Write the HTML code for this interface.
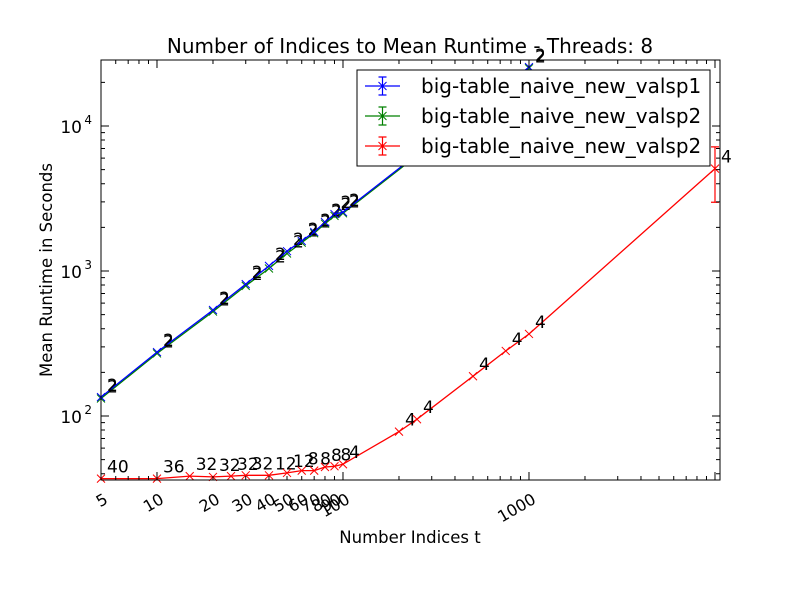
<!DOCTYPE html>
<html><head><meta charset="utf-8"><style>
body{margin:0;background:#fff;}
svg{font-family:"DejaVu Sans","Liberation Sans",sans-serif;}
</style></head><body>
<svg id="chart" width="800" height="600" viewBox="0 0 800 600" xmlns="http://www.w3.org/2000/svg">
<rect width="800" height="600" fill="#fff"/>
<text x="410" y="53" font-size="20" text-anchor="middle">Number of Indices to Mean Runtime - Threads: 8</text>
<text x="410" y="543" font-size="16.5" text-anchor="middle">Number Indices t</text>
<text transform="translate(52,270) rotate(-90)" font-size="16.5" text-anchor="middle">Mean Runtime in Seconds</text>
<g id="plot"></g>
<g id="axes"></g>
<g id="legend"></g>
</svg>
<script>
const blueX=[5,10,20,30,40,50,60,70,80,90,100,1000];
const blueY=[135,276,538,812,1085,1370,1612,1860,2175,2470,2550,25500];
const greenX=[5,10,20,30,40,50,60,70,80,90,100,1000];
const greenY=[132,270,525,790,1040,1320,1570,1820,2120,2400,2500,25000];
const blueLabels=["2","2","2","2","2","2","2","2","2","2","2","2"];
const redX=[5,10,15,20,25,30,40,50,60,70,80,90,100,200,250,500,750,1000,10000];
const redY=[37,37,38.5,38,38.5,39,39,40.5,42,42,44.5,45,46.5,78,95,188,281,368,5080];
const redErr=[0,0,0,0,0,0,0,0,0,0,0,0,0,0,0,0,0,0,2100];
const redLabels=["40","36","32","32","32","32","12","12","8","8","8","8","4","4","4","4","4","4","4"];
const xTickLabels=[5,10,20,30,40,50,60,70,80,90,100,1000];
const yTickExps=[2,3,4];

const L=101,R=720,T=60,B=480;
const X=v=>101+186*Math.log10(v/5);
const Y=v=>416-145*Math.log10(v/100);
const NS="http://www.w3.org/2000/svg";
const plot=document.getElementById('plot'),axes=document.getElementById('axes'),leg=document.getElementById('legend');
function mk(tag,attrs,parent){const e=document.createElementNS(NS,tag);for(const k in attrs)e.setAttribute(k,attrs[k]);parent.appendChild(e);return e;}
function xmark(x,y,c,p){mk('path',{d:`M${x-4},${y-4}L${x+4},${y+4}M${x-4},${y+4}L${x+4},${y-4}`,stroke:c,'stroke-width':1,fill:'none'},p);}
function series(xs,ys,c,labels,name,err){
  const g=mk('g',{},plot);
  
  
  const pts=xs.map((v,i)=>X(v).toFixed(1)+','+Y(ys[i]).toFixed(1)).join(' ');
  const pl=mk('polyline',{points:pts,fill:'none',stroke:c,'stroke-width':1.3},g);
  
  
  xs.forEach((v,i)=>{
    const x=X(v),y=Y(ys[i]);
    if(err&&err[i]>0){
      const y1=Y(ys[i]+err[i]),y2=Y(ys[i]-err[i]);
      const eb=mk('path',{d:`M${x},${y1}L${x},${y2}M${x-4},${y1}L${x+4},${y1}M${x-4},${y2}L${x+4},${y2}`,stroke:c,'stroke-width':1.2,fill:'none'},g);
      
      
    }
    xmark(x,y,c,g);
    if(labels){
      const t=mk('text',{x:x+6,y:y-6,'font-size':17,fill:'#000'},g);
      
      
      t.textContent=labels[i];
    }
  });
}
series(greenX,greenY,'#008000',blueLabels,'series-valsp2-green',null);
series(blueX,blueY,'#0000ff',blueLabels,'series-valsp1-blue',null);
series(redX,redY,'#ff0000',redLabels,'series-valsp2-red',redErr);

const fr=mk('rect',{x:L,y:T,width:R-L,height:B-T,fill:'none',stroke:'#000','stroke-width':1},axes);


for(let d=1;d<=10000;d*=10){for(let m=1;m<10;m++){const v=d*m;const x=X(v);if(x<L-0.5||x>R+0.5)continue;const len=m===1?8:4;
  mk('path',{d:`M${x},${B}L${x},${B-len}M${x},${T}L${x},${T+len}`,stroke:'#000','stroke-width':1},axes);}}
xTickLabels.forEach(v=>{
  const x=X(v);
  const t=mk('text',{transform:`translate(${x+2},${B+12}) rotate(-30)`,'font-size':16,'text-anchor':'end','dominant-baseline':'hanging'},axes);
  
  
  t.textContent=v;
});
for(let d=10;d<=100000;d*=10){for(let m=1;m<10;m++){const v=d*m;const y=Y(v);if(y<T-0.5||y>B+0.5)continue;const len=m===1?8:4;
  mk('path',{d:`M${L},${y}L${L+len},${y}M${R},${y}L${R-len},${y}`,stroke:'#000','stroke-width':1},axes);}}
yTickExps.forEach(e=>{
  const y=Y(Math.pow(10,e));
  const t=mk('text',{x:L-19,y:y+7,'font-size':17,'text-anchor':'end'},axes);
  
  
  t.textContent='10';
  const s=mk('text',{x:L-9,y:y-2,'font-size':12,'text-anchor':'end'},axes);
  s.textContent=e;
});
const lb=mk('rect',{x:357,y:70,width:353,height:96,fill:'#fff',stroke:'#000','stroke-width':1},leg);


const names=['big-table_naive_new_valsp1','big-table_naive_new_valsp2','big-table_naive_new_valsp2'];
const cols=['#0000ff','#008000','#ff0000'];
names.forEach((n,i)=>{
  const y=86+i*30;
  const g=mk('g',{},leg);
  
  
  mk('path',{d:`M365,${y}L400,${y}M${382.5},${y-9}L${382.5},${y+9}M378.5,${y-9}L386.5,${y-9}M378.5,${y+9}L386.5,${y+9}`,stroke:cols[i],'stroke-width':1.2,fill:'none'},g);
  xmark(382.5,y,cols[i],g);
  const t=mk('text',{x:421,y:y+7,'font-size':20},g);
  t.textContent=n;
});
</script>
</body></html>
